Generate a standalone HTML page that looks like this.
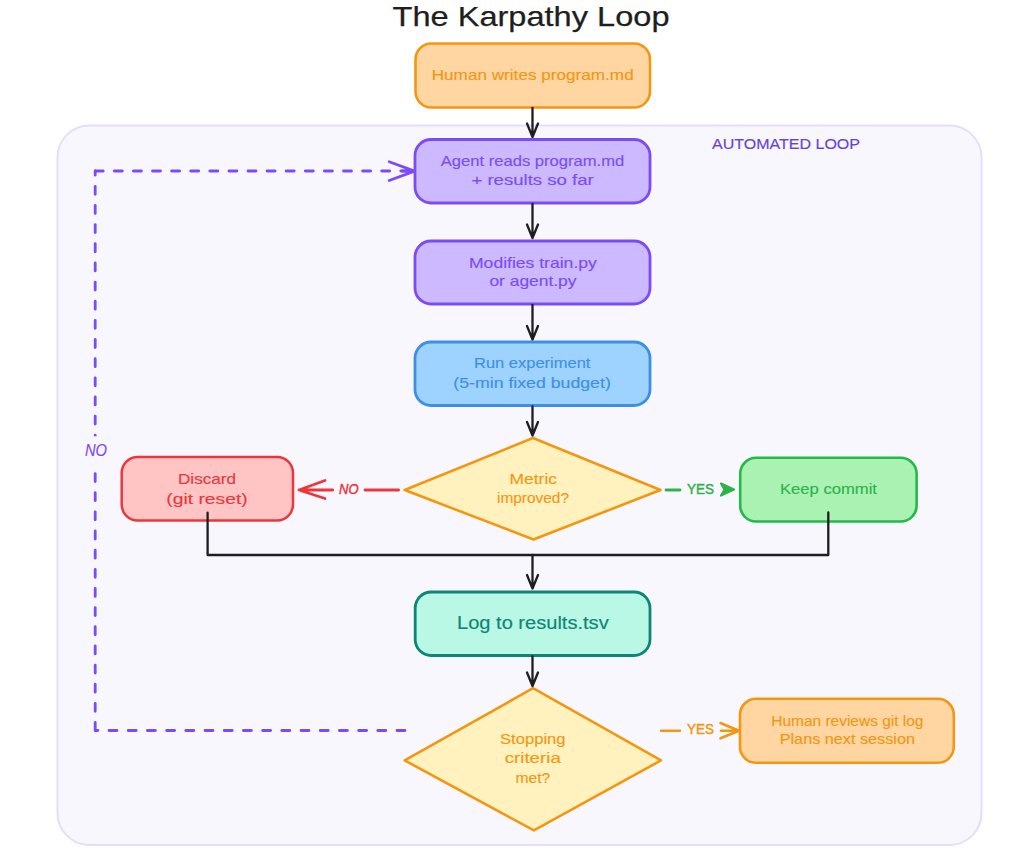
<!DOCTYPE html>
<html><head><meta charset="utf-8">
<style>
html,body{margin:0;padding:0;background:#ffffff;width:1024px;height:865px;overflow:hidden}
svg{display:block}
text{font-family:"Liberation Sans",sans-serif;stroke-width:0.15px}
</style></head>
<body>
<svg width="1024" height="865" viewBox="0 0 1024 865">
<!-- automated loop background -->
<rect x="57.5" y="125.5" width="924" height="719.5" rx="32" ry="32" fill="#f8f7fe" stroke="#e5ddfb" stroke-width="2"/>
<text x="712" y="148.5" font-size="14.5" fill="#6741d9" stroke="#6741d9" textLength="148" lengthAdjust="spacingAndGlyphs">AUTOMATED LOOP</text>

<!-- title -->
<text x="392.5" y="25.8" font-size="28" fill="#1e1e1e" stroke="#1e1e1e" style="stroke-width:0.25px" textLength="277" lengthAdjust="spacingAndGlyphs">The Karpathy Loop</text>

<!-- box1 -->
<rect x="415.5" y="43.5" width="234.5" height="64" rx="16" fill="#ffd5a2" stroke="#f39712" stroke-width="2.6"/>
<text x="431.7" y="80.2" font-size="15" fill="#f39712" stroke="#f39712" textLength="202" lengthAdjust="spacingAndGlyphs">Human writes program.md</text>

<!-- box2 -->
<rect x="415" y="139.5" width="235" height="63.5" rx="16" fill="#cdb9ff" stroke="#7b4cf5" stroke-width="2.8"/>
<text x="440.7" y="165.5" font-size="15" fill="#7b4cf5" stroke="#7b4cf5" textLength="183.6" lengthAdjust="spacingAndGlyphs">Agent reads program.md</text>
<text x="471.4" y="185" font-size="15" fill="#7b4cf5" stroke="#7b4cf5" textLength="122.3" lengthAdjust="spacingAndGlyphs">+ results so far</text>

<!-- box3 -->
<rect x="415" y="241" width="235" height="63" rx="16" fill="#cdb9ff" stroke="#7b4cf5" stroke-width="2.8"/>
<text x="469" y="268" font-size="15" fill="#7b4cf5" stroke="#7b4cf5" textLength="127.8" lengthAdjust="spacingAndGlyphs">Modifies train.py</text>
<text x="489.4" y="286.3" font-size="15" fill="#7b4cf5" stroke="#7b4cf5" textLength="87.1" lengthAdjust="spacingAndGlyphs">or agent.py</text>

<!-- box4 -->
<rect x="415" y="342" width="235" height="63.5" rx="16" fill="#9fd3ff" stroke="#3d8fe6" stroke-width="2.8"/>
<text x="474" y="368" font-size="15" fill="#3d8fe6" stroke="#3d8fe6" textLength="116.4" lengthAdjust="spacingAndGlyphs">Run experiment</text>
<text x="453.3" y="387.6" font-size="15" fill="#3d8fe6" stroke="#3d8fe6" textLength="157.5" lengthAdjust="spacingAndGlyphs">(5-min fixed budget)</text>

<!-- diamond1 -->
<polygon points="533,438 660.5,490 533.5,539.5 404.7,490" fill="#fff2be" stroke="#f39712" stroke-width="2.6" stroke-linejoin="round"/>
<text x="509.5" y="483.5" font-size="15" fill="#f39712" stroke="#f39712" textLength="47.5" lengthAdjust="spacingAndGlyphs">Metric</text>
<text x="497" y="502.5" font-size="15" fill="#f39712" stroke="#f39712" textLength="72" lengthAdjust="spacingAndGlyphs">improved?</text>

<!-- discard -->
<rect x="121.7" y="457" width="171.3" height="63.6" rx="16" fill="#ffc4c4" stroke="#eb373c" stroke-width="2.5"/>
<text x="178" y="484" font-size="15" fill="#eb373c" stroke="#eb373c" textLength="58" lengthAdjust="spacingAndGlyphs">Discard</text>
<text x="166.3" y="503.9" font-size="15" fill="#eb373c" stroke="#eb373c" textLength="81.4" lengthAdjust="spacingAndGlyphs">(git reset)</text>

<!-- keep commit -->
<rect x="740.2" y="457.8" width="176.4" height="63.7" rx="16" fill="#aaf2b2" stroke="#25b84b" stroke-width="2.6"/>
<text x="780" y="494" font-size="15" fill="#2db34e" stroke="#2db34e" textLength="97" lengthAdjust="spacingAndGlyphs">Keep commit</text>

<!-- log -->
<rect x="415.2" y="592" width="234.8" height="63.5" rx="16" fill="#b9f8e4" stroke="#0d8577" stroke-width="2.8"/>
<text x="457" y="629" font-size="17.5" fill="#0d8577" stroke="#0d8577" textLength="151.7" lengthAdjust="spacingAndGlyphs">Log to results.tsv</text>

<!-- diamond2 -->
<polygon points="533,688.2 661,760.4 533.9,830.4 404.7,760.4" fill="#fff2be" stroke="#f39712" stroke-width="2.6" stroke-linejoin="round"/>
<text x="500" y="743.5" font-size="15" fill="#f39712" stroke="#f39712" textLength="65.6" lengthAdjust="spacingAndGlyphs">Stopping</text>
<text x="504.7" y="763.3" font-size="15" fill="#f39712" stroke="#f39712" textLength="56.1" lengthAdjust="spacingAndGlyphs">criteria</text>
<text x="515.5" y="783" font-size="15" fill="#f39712" stroke="#f39712" textLength="34.8" lengthAdjust="spacingAndGlyphs">met?</text>

<!-- human reviews -->
<rect x="740" y="698.8" width="213.8" height="64" rx="16" fill="#ffd5a2" stroke="#f39712" stroke-width="2.6"/>
<text x="771.25" y="726.25" font-size="15" fill="#f39712" stroke="#f39712" textLength="152.2" lengthAdjust="spacingAndGlyphs">Human reviews git log</text>
<text x="779.7" y="744" font-size="15" fill="#f39712" stroke="#f39712" textLength="135.3" lengthAdjust="spacingAndGlyphs">Plans next session</text>

<!-- black arrows -->
<g stroke="#1e1e1e" stroke-width="2.3" fill="none" stroke-linecap="round" stroke-linejoin="round">
  <path d="M532.5,108 L532.5,137 M527,123.5 L532.5,137 L538,123.5"/>
  <path d="M532.5,204 L532.5,238 M527,224.5 L532.5,238 L538,224.5"/>
  <path d="M532.5,305 L532.5,339.5 M527,326 L532.5,339.5 L538,326"/>
  <path d="M532.5,406.5 L532.5,435.5 M527,422 L532.5,435.5 L538,422"/>
  <path d="M207.6,512.7 L207.6,555 L828.3,555 L828.3,512.5"/>
  <path d="M532.5,555 L532.5,588.5 M527,575 L532.5,588.5 L538,575"/>
  <path d="M532.5,656.5 L532.5,686 M527,672.5 L532.5,686 L538,672.5"/>
</g>

<!-- NO arrow (red) -->
<g stroke="#eb373c" stroke-width="2.8" fill="none" stroke-linecap="round" stroke-linejoin="round">
  <path d="M299,490 L332.7,490 M325,480.5 L299,490 L325,498.5"/>
  <path d="M365,490 L398.6,490"/>
</g>
<text x="339" y="494.3" font-size="15" font-style="italic" fill="#eb373c" stroke="#eb373c" style="stroke-width:0.5px" textLength="19.5" lengthAdjust="spacingAndGlyphs">NO</text>

<!-- YES arrow (green) -->
<g stroke="#2db34e" stroke-width="2.8" fill="none" stroke-linecap="round" stroke-linejoin="round">
  <path d="M666,490 L680,490"/>
  <path d="M721,483.5 L734,489.6 L721,495.5 L724.5,489.6 Z" fill="#2db34e" stroke-width="2.2"/>
</g>
<text x="687" y="494.2" font-size="15" fill="#2db34e" stroke="#2db34e" style="stroke-width:0.5px" textLength="27" lengthAdjust="spacingAndGlyphs">YES</text>

<!-- YES arrow (orange) -->
<g stroke="#f39712" stroke-width="2.6" fill="none" stroke-linecap="round" stroke-linejoin="round">
  <path d="M661,730.8 L680,730.8 M720.5,723 L739,730.8 L720.5,738.3 M721,730.8 L739,730.8"/>
</g>
<text x="687" y="734.3" font-size="15" fill="#f39712" stroke="#f39712" style="stroke-width:0.5px" textLength="27" lengthAdjust="spacingAndGlyphs">YES</text>

<!-- dashed loop -->
<g stroke="#7b4cf5" stroke-width="2.8" fill="none" stroke-linecap="round" stroke-linejoin="round">
  <path d="M405,730.5 L95.2,730.5" stroke-dasharray="8 11.2"/>
  <path d="M95.2,730.5 L95.2,171" stroke-dasharray="8 11.15"/>
  <path d="M95.2,171 L412,171" stroke-dasharray="8 11.1"/>
  <path d="M389.2,161.7 L414.6,171.1 L389.2,180.5 M402,171 L414,171"/>
</g>
<rect x="80" y="436.3" width="32" height="35.3" fill="#f8f7fe"/>
<text x="85" y="455.7" font-size="16" font-style="italic" fill="#7b4cf5" stroke="#7b4cf5" textLength="22" lengthAdjust="spacingAndGlyphs">NO</text>
</svg>
</body></html>
